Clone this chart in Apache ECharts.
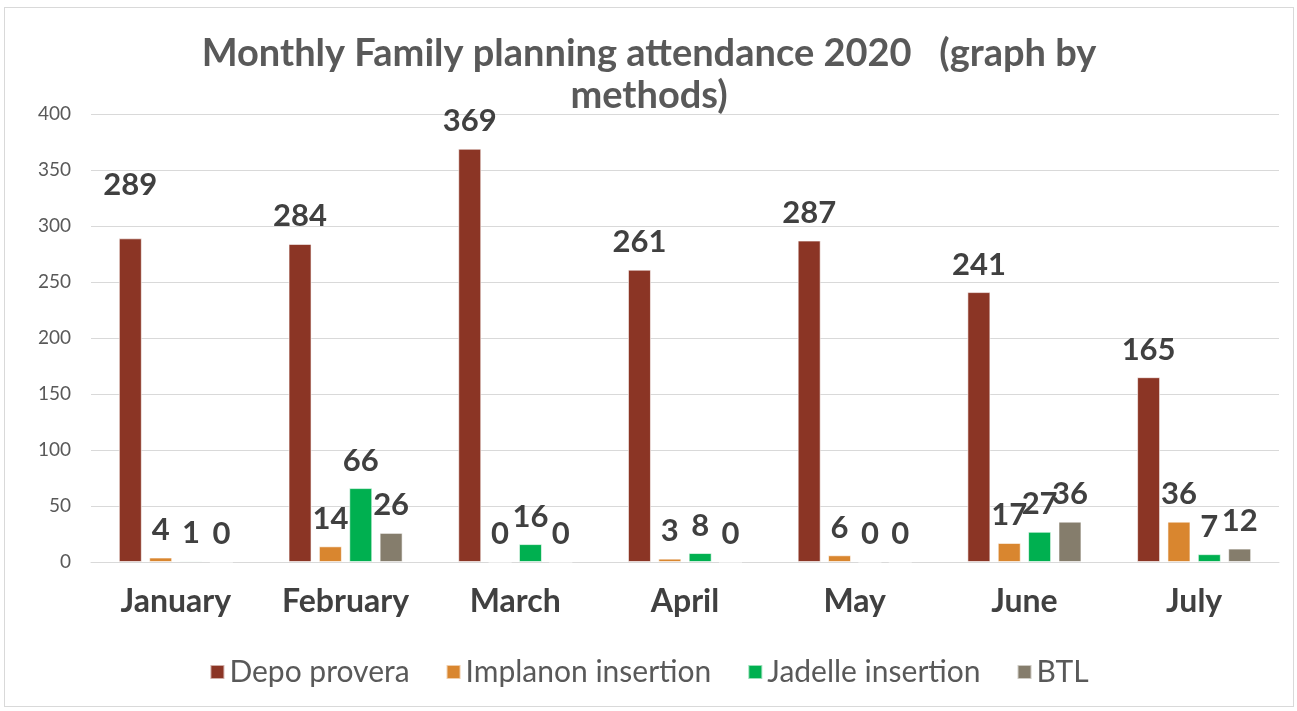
<!DOCTYPE html>
<html>
<head>
<meta charset="utf-8">
<script src="https://cdn.jsdelivr.net/npm/echarts@6/dist/echarts.min.js"></script>
<style>
html, body { margin: 0; padding: 0; background: #fff; }
#main { position: absolute; left: 4px; top: 7px; width: 1290px; height: 700px; border: 1px solid #d9d9d9; box-sizing: border-box; }
</style>
</head>
<body>
<div id="main"></div>
<script>
var months = ['January', 'February', 'March', 'April', 'May', 'June', 'July'];
var depoProvera = [289, 284, 369, 261, 287, 241, 165];
var implanon = [4, 14, 0, 3, 6, 17, 36];
var jadelle = [1, 66, 16, 8, 0, 27, 7];
var btl = [0, 26, 0, 0, 0, 36, 12];

var chart = echarts.init(document.getElementById('main'));

function makeSeries(name, values, color) {
	return {
		name: name,
		type: 'bar',
		data: values,
		barWidth: 23,
		barGap: '32%',
		itemStyle: { color: color, borderColor: 'rgba(255,255,255,0.6)', borderWidth: 1 },
		label: {
			show: true,
			position: 'top',
			distance: 12,
			fontFamily: 'Lato',
			fontWeight: 'bold',
			fontSize: 31,
			color: '#404040'
		}
	};
}

var series = [
	makeSeries('Depo provera', depoProvera, '#8B3525'),
	makeSeries('Implanon insertion', implanon, '#D9862F'),
	makeSeries('Jadelle insertion', jadelle, '#00B050'),
	makeSeries('BTL', btl, '#857D6C')
];
// January 289 label sits higher in the original
series[0].data = depoProvera.map(function(v, i) {
	return i === 0 ? { value: v, label: { distance: 38 } } : v;
});

chart.setOption({
	animation: false,
	title: {
		text: 'Monthly Family planning attendance 2020   (graph by\nmethods)',
		left: 'center',
		top: 20,
		textStyle: { fontFamily: 'Lato', fontWeight: 'bold', fontSize: 38, color: '#595959', lineHeight: 42 }
	},
	legend: {
		bottom: 14,
		left: 'center',
		itemWidth: 14,
		itemHeight: 14,
		itemGap: 36,
		icon: 'rect',
		textStyle: { fontFamily: 'Lato', fontSize: 30, color: '#595959' }
	},
	grid: { left: 86, right: 14, top: 106, bottom: 144 },
	xAxis: {
		type: 'category',
		data: months,
		axisLine: { lineStyle: { color: '#d9d9d9', width: 1 } },
		axisTick: { show: false },
		axisLabel: { fontFamily: 'Lato', fontWeight: 'bold', fontSize: 32, color: '#404040', margin: 24 }
	},
	yAxis: {
		type: 'value',
		min: 0,
		max: 400,
		interval: 50,
		axisLine: { show: false },
		axisTick: { show: false },
		splitLine: { lineStyle: { color: '#d9d9d9', width: 1 } },
		axisLabel: { fontFamily: 'Lato', fontSize: 19, color: '#595959', margin: 20 }
	},
	series: series
});
</script>
</body>
</html>
